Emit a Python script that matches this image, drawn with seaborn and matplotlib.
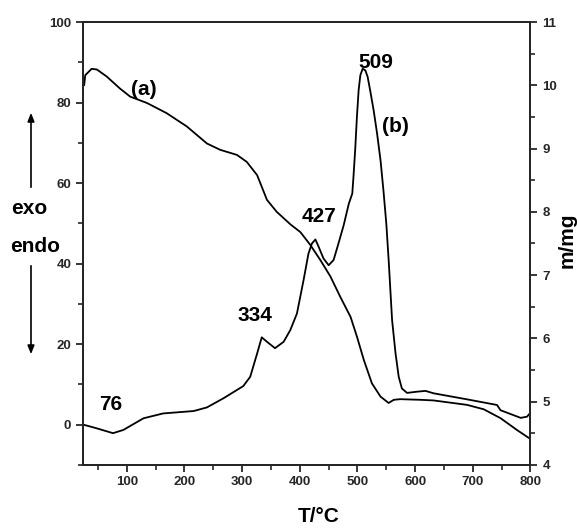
import matplotlib
matplotlib.use("Agg")
import matplotlib.pyplot as plt
from matplotlib.ticker import MultipleLocator
from matplotlib.patches import FancyArrowPatch
import seaborn as sns
import pandas as pd

# DTA trace (b), left axis
dta_temp = [25, 48, 76, 94, 129, 163, 216, 239, 268, 302, 314, 326, 334, 343, 357,
            372, 383.5, 395, 406.5, 415, 421, 427, 432.6, 441, 450, 458.6, 467, 476,
            485, 491, 493, 496, 499, 502, 505, 509, 513.6, 517.6, 522, 528, 534, 540,
            545, 550, 554, 560, 566, 571.5, 577, 586, 603, 618, 632, 690, 742, 748,
            783, 794, 800]
dta_signal = [0.0, -0.9, -2.1, -1.3, 1.6, 2.8, 3.4, 4.3, 6.6, 9.6, 11.9, 17.7, 21.7,
              20.6, 19.0, 20.6, 23.5, 27.6, 35.9, 42.5, 45.0, 46.0, 44.2, 41.3, 39.6,
              40.9, 45.0, 49.5, 54.9, 57.4, 61.5, 68.2, 76.4, 83.1, 86.8, 88.4, 88.0,
              86.4, 83.0, 78.1, 72.3, 65.6, 58.2, 49.9, 41.0, 26.0, 17.7, 11.9, 9.0,
              7.9, 8.2, 8.4, 7.8, 6.3, 4.9, 3.6, 1.7, 2.0, 3.0]

# TG trace (a), right axis (mass in mg)
tg_temp = [26, 28, 39, 48, 65, 88, 106, 135, 169, 204, 239, 262, 291, 308, 326, 343,
           360, 384, 401, 418, 435.5, 453, 470, 488, 499, 511, 525, 540, 554, 563, 574,
           609, 632, 690, 719, 748, 777, 800]
tg_mass = [10.00, 10.16, 10.26, 10.25, 10.14, 9.95, 9.82, 9.72, 9.56, 9.35, 9.08, 8.98,
           8.90, 8.79, 8.58, 8.19, 8.00, 7.80, 7.68, 7.48, 7.24, 6.98, 6.66, 6.34, 6.03,
           5.66, 5.29, 5.08, 4.98, 5.03, 5.04, 5.03, 5.02, 4.95, 4.88, 4.74, 4.55, 4.41]

peak_labels = ["76", "334", "427", "509"]
peak_pos = [(71.5, 5.1), (321.5, 27.2), (433, 51.8), (531, 90.0)]

sns.set_style("ticks")
FONT = ["Liberation Sans Narrow", "Liberation Sans", "DejaVu Sans"]
plt.rcParams["font.family"] = FONT
plt.rcParams["font.weight"] = "bold"

fig = plt.figure(figsize=(5.77, 5.29), dpi=100)
ax = fig.add_axes([0.1438, 0.121, 0.9194 - 0.1438, 0.9584 - 0.121])
ax2 = ax.twinx()

dta = pd.DataFrame({"T": dta_temp, "signal": dta_signal})
tg = pd.DataFrame({"T": tg_temp, "mass": tg_mass})
sns.lineplot(data=dta, x="T", y="signal", ax=ax, color="black", lw=1.3, sort=False)
sns.lineplot(data=tg, x="T", y="mass", ax=ax2, color="black", lw=1.3, sort=False)

ax.set_xlim(24, 800)
ax.set_ylim(-10, 100)
ax2.set_ylim(4, 11)
ax.xaxis.set_major_locator(MultipleLocator(100))
ax.xaxis.set_minor_locator(MultipleLocator(50))
ax.yaxis.set_major_locator(MultipleLocator(20))
ax.yaxis.set_minor_locator(MultipleLocator(10))
ax2.yaxis.set_major_locator(MultipleLocator(1))
ax2.yaxis.set_minor_locator(MultipleLocator(0.5))
ax.set_xticks(range(100, 801, 100))

for a in (ax, ax2):
    for s in a.spines.values():
        s.set_linewidth(1.4)
        s.set_visible(True)
    a.tick_params(which="major", length=5, width=1.3, direction="out", labelsize=9.5)
    a.tick_params(which="minor", length=3.5, width=1.2, direction="out")
    for lab in a.get_xticklabels() + a.get_yticklabels():
        lab.set_fontweight("bold")
ax.tick_params(axis="x", pad=3)
ax.tick_params(top=False, which="both")

ax.set_xlabel("")
ax.set_ylabel("")
ax2.set_ylabel("")

txt = dict(fontsize=15, fontweight="bold", color="black")
for lab, (x, y) in zip(peak_labels, peak_pos):
    ax.text(x, y, lab, ha="center", va="center", **txt)
ax.text(129, 83.3, "(a)", ha="center", va="center", **txt)
ax.text(566, 74.1, "(b)", ha="center", va="center", **txt)

fig.text(319 / 577, 1 - 516 / 529, "T/°C", ha="center", va="center", **txt)
fig.text(567 / 577, 1 - 240 / 529, "m/mg", ha="center", va="center", rotation=90, **txt)
fig.text(29 / 577, 1 - 208 / 529, "exo", ha="center", va="center", **txt)
fig.text(35 / 577, 1 - 246 / 529, "endo", ha="center", va="center", **txt)

for start, end in [((31, 190), (31, 110)), ((31, 263), (31, 357))]:
    fig.patches.append(FancyArrowPatch(
        (start[0] / 577, 1 - start[1] / 529), (end[0] / 577, 1 - end[1] / 529),
        transform=fig.transFigure, arrowstyle="-|>,head_length=5,head_width=2",
        color="black", lw=1.2))

fig.savefig("out.png", dpi=100)
